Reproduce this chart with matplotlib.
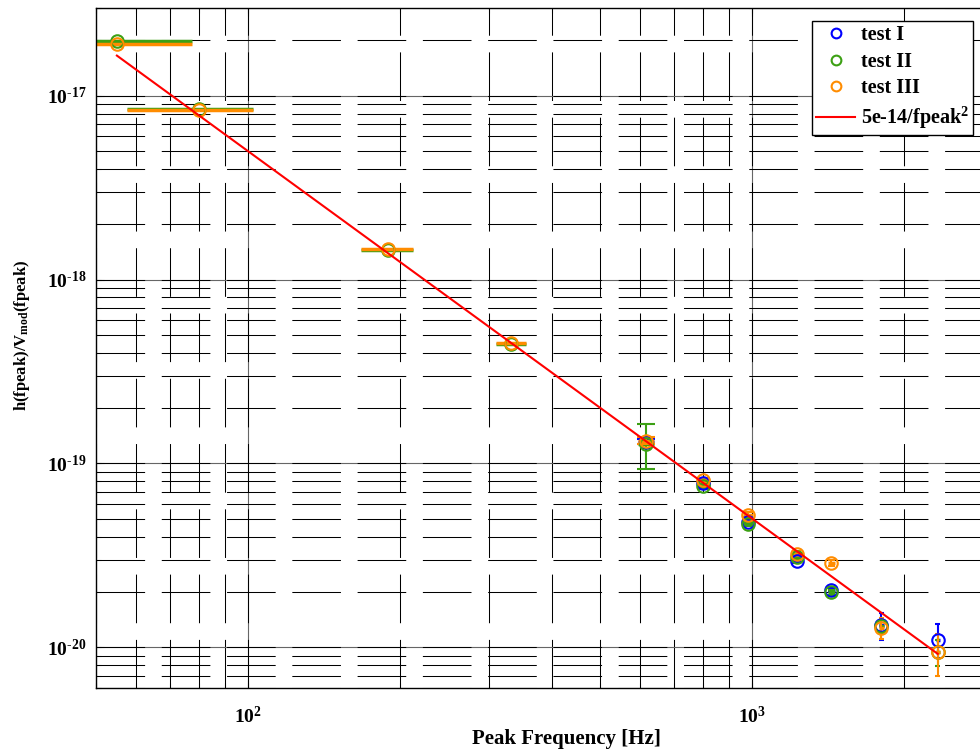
import numpy as np
import matplotlib
matplotlib.use('Agg')
import matplotlib.pyplot as plt
from matplotlib.ticker import LogLocator, FuncFormatter, NullFormatter
from matplotlib.lines import Line2D

plt.rcParams['font.family'] = 'Liberation Serif'
plt.rcParams['font.weight'] = 'bold'
plt.rcParams['mathtext.fontset'] = 'custom'
plt.rcParams['mathtext.rm'] = 'Liberation Serif:bold'
plt.rcParams['mathtext.bf'] = 'Liberation Serif:bold'
plt.rcParams['mathtext.it'] = 'Liberation Serif:bold:italic'
plt.rcParams['lines.scale_dashes'] = False

# ---- data -------------------------------------------------------------------
f_I = [616, 800, 980, 1224, 1435, 1803, 2331]
h_I = [1.31e-19, 7.78e-20, 4.80e-20, 2.96e-20, 2.05e-20, 1.32e-20, 1.10e-20]
err_I = [4e-21, 2e-21, 1.2e-21, 8e-22, 6e-22, 2.2e-21, 2.3e-21]

f_II = [55, 80, 190, 333, 616, 800, 980, 1224, 1435, 1803, 2331]
h_II = [1.98e-17, 8.50e-18, 1.45e-18, 4.46e-19, 1.28e-19, 7.50e-20,
        4.69e-20, 3.11e-20, 1.99e-20, 1.30e-20, 9.40e-21]
err_II = [0, 0, 0, 0, 3.5e-20, 2e-21, 1e-21, 8e-22, 6e-22, 1.2e-21, 1.5e-21]

f_III = [55, 80, 190, 333, 616, 800, 980, 1224, 1435, 1803, 2331]
h_III = [1.91e-17, 8.40e-18, 1.47e-18, 4.52e-19, 1.33e-19, 8.08e-20,
         5.26e-20, 3.22e-20, 2.88e-20, 1.28e-20, 9.39e-21]
err_III = [0, 0, 0, 0, 6e-21, 2e-21, 1.5e-21, 1e-21, 1e-21, 1.7e-21, 2.4e-21]

f_err = 22.5      # horizontal error on the peak frequency [Hz]
cap_half = 24     # cap half width [Hz]
fit_amp = 5e-14
fit_range = [55, 2331]

x_lim = (50, 3000)
y_lim = (6e-21, 3e-17)

c_I = '#0000ff'
c_II = '#3ca014'
c_III = '#ff8c00'


def draw_series(ax, f, h, err, color):
    f = np.array(f, dtype=float)
    h = np.array(h)
    err = np.array(err)
    ax.hlines(h, f - f_err, f + f_err, colors=color, lw=2.5, zorder=2)
    m = err > 0
    ax.vlines(f[m], h[m] - err[m], h[m] + err[m], colors=color, lw=1.5, zorder=2)
    ax.hlines(h[m] - err[m], f[m] - cap_half, f[m] + cap_half, colors=color, lw=1.5, zorder=2)
    ax.hlines(h[m] + err[m], f[m] - cap_half, f[m] + cap_half, colors=color, lw=1.5, zorder=2)
    ax.plot(f, h, 'o', mfc='none', mec=color, ms=9, mew=1.5, zorder=3)


def make_fmt(lim):
    def fmt(v, p):
        if v < lim[0] or v > lim[1]:
            return ''
        return r'$\mathbf{10^{\text{%d}}}$' % int(round(np.log10(v)))
    return FuncFormatter(fmt)


fig = plt.figure(figsize=(9.8, 7.49), dpi=100)
ax = fig.add_axes([96 / 980, 61 / 749, 897 / 980, 680 / 749])
ax.set_xscale('log')
ax.set_yscale('log')
ax.set_xlim(*x_lim)
ax.set_ylim(*y_lim)

draw_series(ax, f_I, h_I, err_I, c_I)
draw_series(ax, f_II, h_II, err_II, c_II)
draw_series(ax, f_III, h_III, err_III, c_III)

ff = np.logspace(np.log10(fit_range[0]), np.log10(fit_range[1]), 50)
ax.plot(ff, fit_amp / ff ** 2, color='red', lw=1.5, zorder=4)

# ticks / grid, matlab style
for axis, lim in ((ax.xaxis, x_lim), (ax.yaxis, y_lim)):
    axis.set_major_locator(LogLocator(base=10, numticks=20))
    axis.set_minor_locator(LogLocator(base=10, subs=np.arange(1, 10), numticks=20))
    axis.set_major_formatter(make_fmt(lim))
    axis.set_minor_formatter(NullFormatter())
    axis.remove_overlapping_locs = False

ax.grid(which='major', color='0.4', linestyle='-', linewidth=0.8)
ax.grid(which='minor', color='k', linestyle=(0, (35, 12)), linewidth=0.75)
ax.tick_params(which='both', direction='in', top=True, right=True, width=0.75)
ax.tick_params(which='major', length=6)
ax.tick_params(which='minor', length=3.5)
ax.tick_params(axis='x', labelsize=14, pad=13)
ax.tick_params(axis='y', labelsize=14, pad=7)
for s in ax.spines.values():
    s.set_linewidth(1.0)

ax.set_xlabel('Peak Frequency [Hz]', fontsize=15, fontweight='bold', va='top')
ax.set_ylabel(r'h(fpeak)/V$_{\mathbf{mod}}$(fpeak)', fontsize=12, fontweight='bold',
              va='center', ha='center')
ax.xaxis.set_label_coords(0.524, -0.061)
ax.yaxis.set_label_coords(-0.083, 0.519)

handles = [
    Line2D([], [], ls='none', marker='o', mfc='none', mec=c_I, ms=7, mew=1.5),
    Line2D([], [], ls='none', marker='o', mfc='none', mec=c_II, ms=7, mew=1.5),
    Line2D([], [], ls='none', marker='o', mfc='none', mec=c_III, ms=7, mew=1.5),
    Line2D([], [], color='red', lw=1.5),
]
labels = ['test I', 'test II', 'test III', r'5e-14/fpeak$^{\mathbf{2}}$']
leg = ax.legend(handles, labels, loc='upper right',
                bbox_to_anchor=(973 / 980, 1 - 21 / 749), bbox_transform=fig.transFigure,
                borderaxespad=0, fancybox=False, framealpha=1, edgecolor='k',
                fontsize=14.5, handlelength=1.9, handletextpad=0.3, labelspacing=0.33,
                borderpad=0.2)
leg.get_frame().set_linewidth(1.0)

fig.savefig('out.png', dpi=100)
